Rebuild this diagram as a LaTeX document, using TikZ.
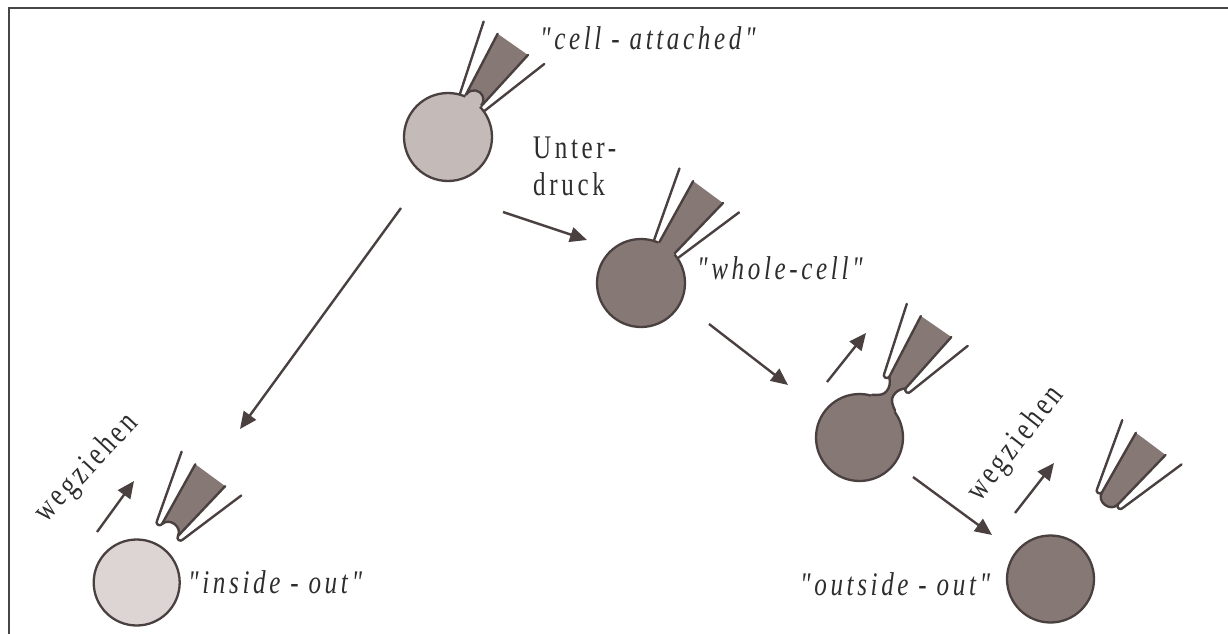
\documentclass[tikz,border=0pt]{standalone}
\usepackage{fontspec}
\setmainfont{Liberation Serif}
\newfontfamily\labelfont[FakeStretch=0.76,LetterSpace=11]{Liberation Serif}
\usetikzlibrary{arrows.meta}

\definecolor{ink}{RGB}{74,64,64}
\definecolor{textgrey}{RGB}{45,45,45}
\definecolor{cellpale}{RGB}{221,213,212}
\definecolor{celllight}{RGB}{196,186,184}
\definecolor{celldark}{RGB}{134,121,117}
\definecolor{framegrey}{RGB}{70,70,70}

\tikzset{
  membrane/.style={draw=ink, line width=2.3pt},
  cellbody/.style={circle, membrane, minimum size=#1, inner sep=0pt},
  glass/.style={draw=ink, line width=2.4pt, line cap=round, line join=round},
  solution/.style={fill=celldark},
  move/.style={draw=ink, line width=2.4pt, -{Triangle[length=17pt,width=15pt]}},
  lab/.style={text=textgrey, font=\labelfont\fontsize{33}{38}\selectfont, inner sep=0pt},
}

\begin{document}
\begin{tikzpicture}[x=1pt,y=1pt]
\useasboundingbox (0,0) rectangle (1228,-634);
\draw[framegrey, line width=2pt] (9,-634) -- (9,-8) -- (1228,-8);

% ---- cells ----
\node[cellbody=88pt, fill=celllight] (ca)  at (448,-137)    {};
\node[cellbody=88pt, fill=celldark]  (wc)  at (641,-283)    {};
\node[cellbody=87pt, fill=celldark]  (pl)  at (859.5,-437.5) {};
\node[cellbody=86pt, fill=cellpale]  (io)  at (136.7,-582.5) {};
\node[cellbody=87pt, fill=celldark]  (oo)  at (1050.5,-579)  {};

% ---- cell-attached: pipette sealed on the membrane, small bleb ----
\begin{scope}[shift={(473.8,-100.1)}, rotate=55]
  \fill[solution] (-1,9.5) -- (68,18.5) -- (68,-18.5) -- (-1,-9.5) -- (3,0) -- cycle;
  \draw[glass] (-1,9.5) -- (68,18.5);
  \draw[glass] (-1,-9.5) -- (68,-18.5);
  \fill[celllight] (0.5,0) circle (9.3);
  \draw[membrane] (-0.3,-9.2) arc[start angle=-95, end angle=95, radius=9.3];
  \draw[glass] (-2.6,15) -- (70,37);
  \draw[glass] (-2.6,-15) -- (70,-37);
\end{scope}

% ---- whole-cell: membrane ruptured, solution continuous with the cell ----
\begin{scope}[shift={(667.7,-246.8)}, rotate=53.6]
  \fill[solution] (-6,9.5) -- (68,18.5) -- (68,-18.5) -- (-6,-9.5) -- cycle;
  \draw[glass] (-1,9.5) -- (68,18.5);
  \draw[glass] (-1,-9.5) -- (68,-18.5);
  \draw[glass] (-2.6,15) -- (70,37);
  \draw[glass] (-2.6,-15) -- (70,-37);
\end{scope}

% ---- pulling away: membrane neck between pipette and cell ----
\begin{scope}[shift={(897.5,-382.5)}, rotate=55.4]
  \fill[solution] (68,18.5) -- (0,10) .. controls (-5,5) and (-8,4) .. (-13,4)
      .. controls (-18,4) and (-21,8) .. (-24.6,14) -- (-32,14) -- (-32,-14) -- (-24.6,-14)
      .. controls (-21,-8) and (-18,-4) .. (-13,-4) .. controls (-8,-4) and (-5,-5) .. (0,-10)
      -- (68,-18.5) -- cycle;
  \draw[glass] (0,10) .. controls (-5,5) and (-8,4) .. (-13,4)
      .. controls (-18,4) and (-21,8) .. (-24.6,14);
  \draw[glass] (0,-10) .. controls (-5,-5) and (-8,-4) .. (-13,-4)
      .. controls (-18,-4) and (-21,-8) .. (-24.6,-14);
  \draw[glass] (70,37) -- (0,16) arc[start angle=90, end angle=270, radius=3] -- (68,18.5);
  \draw[glass] (70,-37) -- (0,-16) arc[start angle=-90, end angle=-270, radius=3] -- (68,-18.5);
\end{scope}

% ---- inside-out: patch closed, curving into the pipette ----
\begin{scope}[shift={(170,-530)}, rotate=53.7]
  \fill[solution] (0,10) -- (68,18.5) -- (68,-18.5) -- (0,-10)
      .. controls (10,-8) and (10,8) .. (0,10) -- cycle;
  \draw[glass] (0,-10) .. controls (10,-8) and (10,8) .. (0,10);
  \draw[glass] (70,37) -- (0,16) arc[start angle=90, end angle=270, radius=3] -- (68,18.5);
  \draw[glass] (70,-37) -- (0,-16) arc[start angle=-90, end angle=-270, radius=3] -- (68,-18.5);
\end{scope}

% ---- outside-out: patch bulging out of the tip ----
\begin{scope}[shift={(1110,-498.3)}, rotate=53.2]
  \fill[solution] (0,10) -- (68,18.5) -- (68,-18.5) -- (0,-10)
      .. controls (-11,-9) and (-11,9) .. (0,10) -- cycle;
  \draw[glass] (0,-10) .. controls (-11,-9) and (-11,9) .. (0,10);
  \draw[glass] (70,37) -- (0,16) arc[start angle=90, end angle=270, radius=3] -- (68,18.5);
  \draw[glass] (70,-37) -- (0,-16) arc[start angle=-90, end angle=-270, radius=3] -- (68,-18.5);
\end{scope}

% ---- arrows ----
\coordinate (a1s) at (401,-208);  \coordinate (a1e) at (240,-429);
\coordinate (a2s) at (503,-212);  \coordinate (a2e) at (587,-240);
\coordinate (a3s) at (709,-324);  \coordinate (a3e) at (788,-385);
\coordinate (a4s) at (827,-382);  \coordinate (a4e) at (866,-333);
\coordinate (a5s) at (913,-477);  \coordinate (a5e) at (992,-535);
\coordinate (a6s) at (1015,-513); \coordinate (a6e) at (1054,-463);
\coordinate (a7s) at (97,-532);   \coordinate (a7e) at (134,-481);
\foreach \s/\e in {a1s/a1e, a2s/a2e, a3s/a3e, a4s/a4e, a5s/a5e, a6s/a6e, a7s/a7e}
  \draw[move] (\s) -- (\e);

% ---- labels ----
\node[lab, anchor=base west] (tca) at (540,-49)  {\itshape "cell - attached"};
\node[lab, anchor=base west] (tu1) at (533,-158) {Unter-};
\node[lab, anchor=base west] (tu2) at (533,-195) {druck};
\node[lab, anchor=base west] (twc) at (697,-279) {\itshape "whole-cell"};
\node[lab, anchor=base west] (tio) at (188,-593) {\itshape "inside - out"};
\node[lab, anchor=base west] (too) at (800,-595) {\itshape "outside - out"};
\node[lab, anchor=base west, rotate=47] (tw1) at (46,-524)  {wegziehen};
\node[lab, anchor=base west, rotate=52] (tw2) at (980,-503) {wegziehen};
\end{tikzpicture}
\end{document}
